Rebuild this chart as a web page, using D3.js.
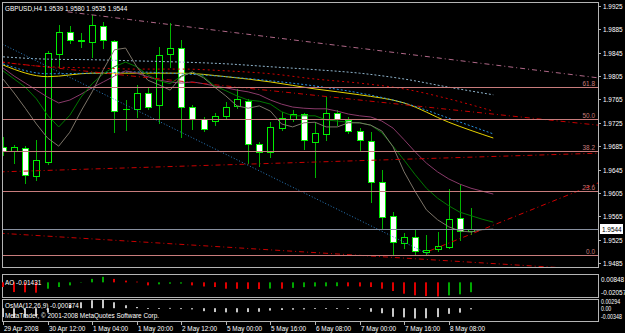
<!DOCTYPE html>
<html><head><meta charset="utf-8">
<script src="https://cdn.jsdelivr.net/npm/d3@7"></script>
<style>
html,body{margin:0;padding:0;background:#000;overflow:hidden}
svg{display:block}
text{font-family:'Liberation Sans',Arial,sans-serif;font-size:8px;fill:#fff}
</style></head><body>
<svg id="c" width="625" height="333"></svg>
<script>
// ---------- data ----------
const symbol = "GBPUSD,H4";
const open  = [1.9684,1.9677,1.9682,1.9634,1.9658,1.9843,1.9881,1.9865,1.9863,1.9891,1.9865,1.9749,1.9749,1.9776,1.9756,1.9843,1.9853,1.9752,1.9732,1.9728,1.9737,1.9754,1.9762,1.9689,1.9675,1.9716,1.9732,1.9740,1.9692,1.9706,1.9742,1.9730,1.9711,1.9694,1.9624,1.9566,1.9519,1.9530,1.9504,1.9509,1.9512,1.9562,1.9539];
const high  = [1.9701,1.9687,1.9685,1.9696,1.9848,1.9892,1.9891,1.9879,1.9910,1.9898,1.9867,1.9764,1.9790,1.9786,1.9855,1.9896,1.9867,1.9756,1.9735,1.9742,1.9761,1.9783,1.9766,1.9692,1.9726,1.9744,1.9747,1.9742,1.9726,1.9769,1.9747,1.9735,1.9716,1.9709,1.9644,1.9572,1.9536,1.9542,1.9533,1.9538,1.9612,1.9618,1.9580];
const low   = [1.9670,1.9656,1.9622,1.9627,1.9655,1.9821,1.9862,1.9855,1.9838,1.9853,1.9709,1.9713,1.9735,1.9749,1.9724,1.9821,1.9701,1.9715,1.9711,1.9721,1.9733,1.9750,1.9656,1.9651,1.9667,1.9713,1.9728,1.9680,1.9632,1.9696,1.9721,1.9708,1.9679,1.9590,1.9545,1.9499,1.9511,1.9499,1.9499,1.9506,1.9510,1.9524,1.9535];
const close = [1.9677,1.9684,1.9636,1.9661,1.9845,1.9881,1.9867,1.9866,1.9892,1.9867,1.9745,1.9748,1.9776,1.9752,1.9841,1.9853,1.9752,1.9732,1.9714,1.9737,1.9752,1.9766,1.9689,1.9675,1.9718,1.9733,1.9740,1.9696,1.9708,1.9742,1.9732,1.9711,1.9696,1.9624,1.9564,1.9521,1.9530,1.9506,1.9507,1.9514,1.9560,1.9539,1.9544];

// moving averages, one value per bar (index 0..44, last two shifted past the last bar)
const maFast = [1.9800,1.9776,1.9750,1.9723,1.9699,1.9685,1.9709,1.9745,1.9778,1.9816,1.9850,1.9853,1.9821,1.9798,1.9790,1.9781,1.9804,1.9812,1.9802,1.9786,1.9771,1.9754,1.9750,1.9754,1.9745,1.9723,1.9718,1.9725,1.9726,1.9718,1.9718,1.9725,1.9725,1.9721,1.9711,1.9684,1.9641,1.9607,1.9576,1.9559,1.9547,1.9540,1.9538,1.9542,1.9543];
const maMid  = [1.9814,1.9800,1.9786,1.9766,1.9738,1.9718,1.9738,1.9769,1.9792,1.9809,1.9821,1.9829,1.9821,1.9807,1.9797,1.9792,1.9805,1.9812,1.9804,1.9788,1.9780,1.9771,1.9764,1.9762,1.9757,1.9744,1.9737,1.9737,1.9737,1.9730,1.9728,1.9726,1.9725,1.9721,1.9708,1.9685,1.9661,1.9636,1.9613,1.9596,1.9583,1.9572,1.9566,1.9560,1.9555];
const maSlow = [1.9819,1.9805,1.9793,1.9781,1.9769,1.9759,1.9764,1.9774,1.9785,1.9795,1.9805,1.9814,1.9810,1.9804,1.9798,1.9795,1.9793,1.9795,1.9792,1.9788,1.9785,1.9781,1.9778,1.9773,1.9764,1.9757,1.9752,1.9750,1.9749,1.9749,1.9745,1.9740,1.9737,1.9735,1.9728,1.9716,1.9696,1.9675,1.9656,1.9641,1.9629,1.9620,1.9613,1.9608,1.9603];

// long moving averages, read every 4 bars (index 0,4,...,44)
const longIdx   = [0,4,8,12,16,20,24,28,32,36,40,44];
const maLightBl = [1.9838,1.9834,1.9833,1.9831,1.9829,1.9826,1.9821,1.9816,1.9810,1.9800,1.9786,1.9773];
const maRed     = [1.9829,1.9821,1.9819,1.9817,1.9817,1.9814,1.9809,1.9800,1.9793,1.9783,1.9766,1.9745];
const maYellow  = [1.9824,1.9804,1.9810,1.9810,1.9810,1.9804,1.9795,1.9783,1.9773,1.9759,1.9726,1.9699];
const maBlue    = [1.9826,1.9809,1.9810,1.9812,1.9809,1.9804,1.9797,1.9788,1.9776,1.9759,1.9733,1.9706];

// trend lines: [startIndex, startPrice, endIndex, endPrice]
const trendPink   = [5.8, 1.9915, 53.4, 1.9802];
const trendRedTop = [-0.3, 1.9829, 53.4, 1.9721];
const trendRedMid = [-0.3, 1.9641, 53.4, 1.9673];
const trendRedLow = [-0.3, 1.9536, 53.4, 1.9473];
const trendRedUp  = [38.3, 1.9506, 53.4, 1.9622];
const trendBlue   = [-0.3, 1.9862, 38.3, 1.9499];

// fibonacci retracement
const fibLow = 1.9499, fibHigh = 1.9965;
const fibLevels = [0, 23.6, 38.2, 50.0, 61.8];

// price axis ticks
const priceTicks = [1.9925,1.9885,1.9845,1.9805,1.9765,1.9725,1.9685,1.9645,1.9605,1.9565,1.9525,1.9485];

// time axis
const timeIdx    = [0,4,8,12,16,20,24,28,32,36,40];
const timeLabels = ["29 Apr 2008","30 Apr 12:00","1 May 04:00","1 May 20:00","2 May 12:00","5 May 00:00","5 May 16:00","6 May 08:00","7 May 00:00","7 May 16:00","8 May 08:00"];

// Awesome oscillator
const ao = [-0.0068,-0.0141,-0.0145,-0.0150,-0.0092,-0.0068,-0.0044,0.0005,0.0050,0.0080,0.0050,0.0025,0.0010,-0.0044,-0.0029,-0.0020,-0.0018,-0.0044,-0.0060,-0.0068,-0.0092,-0.0093,-0.0095,-0.0097,-0.0090,-0.0092,-0.0080,-0.0070,-0.0060,-0.0058,-0.0056,-0.0058,-0.0060,-0.0068,-0.0092,-0.0126,-0.0165,-0.0189,-0.0200,-0.02057,-0.0189,-0.0174,-0.01431];
const aoTicks = [0.00848, -0.02057];

// OsMA(12,26,9)
const osma = [-0.0030,-0.0033,-0.0032,-0.0028,-0.0015,0.0000,0.0012,0.0020,0.0027,0.00294,0.0020,0.0010,0.0004,-0.0002,-0.0001,0.0001,-0.0003,-0.0004,-0.0010,-0.0013,-0.0014,-0.0014,-0.0013,-0.0012,-0.0008,-0.0006,-0.0005,-0.0004,-0.0002,-0.0001,-0.0001,-0.0002,-0.0003,-0.0012,-0.0017,-0.0029,-0.0031,-0.00348,-0.0034,-0.0030,-0.0019,-0.0015,-0.000374];
const osmaTicks = [0.00294, 0.00, -0.00348];

// ---------- drawing ----------
const W = 625, H = 333;
const L = 2, R = 598;
const main = {top: 2, bottom: 267};
const aoP = {top: 274, bottom: 297};
const osP = {top: 299, bottom: 321};
const SX = 0.8; // narrow the font horizontally like the terminal's bitmap font

const svg = d3.select("#c");
svg.append("rect").attr("width", W).attr("height", H).attr("fill", "#000");

const x = d3.scaleLinear().domain([0, 42]).range([3, 471]);
const y = d3.scaleLinear().domain([1.9485, 1.9925]).range([263, 6]);
const yAo = d3.scaleLinear().domain([-0.02057, 0.00848]).range([296.5, 276.5]);
const yOs = d3.scaleLinear().domain([-0.00348, 0.00294]).range([318.5, 299.5]);
const px = v => Math.round(v) + 0.5;
const tr = (a, b) => `translate(${a},${b}) scale(${SX},1)`;

const defs = svg.append("defs");
defs.append("clipPath").attr("id", "clipMain").append("rect")
  .attr("x", L + 1).attr("y", main.top + 1).attr("width", R - L - 1).attr("height", main.bottom - main.top - 1);

const g = svg.append("g").attr("clip-path", "url(#clipMain)");

// candles
const n = open.length;
const idx = d3.range(n);
g.selectAll(".wick").data(idx).join("line")
  .attr("x1", i => px(x(i))).attr("x2", i => px(x(i)))
  .attr("y1", i => Math.round(y(high[i]))).attr("y2", i => Math.round(y(low[i])) + 1)
  .attr("stroke", "#00b400").attr("stroke-width", 1);
g.selectAll(".body").data(idx).join("rect")
  .attr("x", i => Math.round(x(i)) - 3 + 0.5)
  .attr("y", i => Math.round(y(Math.max(open[i], close[i]))) + 0.5)
  .attr("width", 6)
  .attr("height", i => Math.max(0.01, Math.round(y(Math.min(open[i], close[i]))) - Math.round(y(Math.max(open[i], close[i])))))
  .attr("fill", i => close[i] < open[i] ? "#ffffff" : "#000000")
  .attr("stroke", "#00f000").attr("stroke-width", 1);

// moving averages
const lineIdx = (arr) => d3.line().x((d, i) => x(i)).y(d => y(d))(arr);
const lineLong = (arr) => d3.line().x((d, i) => x(longIdx[i])).y(d => y(d)).curve(d3.curveMonotoneX)(arr);

g.append("path").attr("d", lineLong(maLightBl)).attr("fill", "none").attr("stroke", "#8fb4cc").attr("stroke-width", 1).attr("stroke-dasharray", "2,2");
g.append("path").attr("d", lineLong(maRed)).attr("fill", "none").attr("stroke", "#d00000").attr("stroke-width", 1).attr("stroke-dasharray", "2,3");
g.append("path").attr("d", lineLong(maYellow)).attr("fill", "none").attr("stroke", "#e6d200").attr("stroke-width", 1);
g.append("path").attr("d", lineLong(maBlue)).attr("fill", "none").attr("stroke", "#2890e0").attr("stroke-width", 1).attr("stroke-dasharray", "2,2");

g.append("path").attr("d", lineIdx(maSlow)).attr("fill", "none").attr("stroke", "#8a3a6a").attr("stroke-width", 1);
g.append("path").attr("d", lineIdx(maMid)).attr("fill", "none").attr("stroke", "#007800").attr("stroke-width", 1);
g.append("path").attr("d", lineIdx(maFast)).attr("fill", "none").attr("stroke", "#7c7468").attr("stroke-width", 1);

// trend lines
function trend(t, color, dash) {
  g.append("line")
    .attr("x1", x(t[0])).attr("y1", y(t[1])).attr("x2", x(t[2])).attr("y2", y(t[3]))
    .attr("stroke", color).attr("stroke-width", 1).attr("stroke-dasharray", dash);
}
trend(trendPink, "#b06888", "5,3,1,3");
trend(trendRedTop, "#c80000", "5,3,1,3");
trend(trendRedMid, "#c80000", "5,3,1,3");
trend(trendRedLow, "#c80000", "5,3,1,3");
trend(trendRedUp, "#d00000", "5,3,1,3");
trend(trendBlue, "#2a7cc0", "1,2");

// fibonacci levels
const fibPrice = lv => fibLow + lv / 100 * (fibHigh - fibLow);
g.selectAll(".fib").data(fibLevels).join("line")
  .attr("x1", L).attr("x2", R)
  .attr("y1", d => px(y(fibPrice(d)))).attr("y2", d => px(y(fibPrice(d))))
  .attr("stroke", "#c87c7c").attr("stroke-width", 1);
svg.selectAll(".fibt").data(fibLevels).join("text")
  .attr("transform", d => tr(595, Math.round(y(fibPrice(d))) - 1))
  .attr("text-anchor", "end").style("fill", "#c87c7c")
  .text(d => d.toFixed(1));

// bid line
const last = close[n - 1];
g.append("line").attr("x1", L).attr("x2", R)
  .attr("y1", px(y(last))).attr("y2", px(y(last)))
  .attr("stroke", "#8890a0").attr("stroke-width", 1);

// frames
function frame(p) {
  svg.append("rect").attr("x", L + 0.5).attr("y", p.top + 0.5)
    .attr("width", R - L).attr("height", p.bottom - p.top)
    .attr("fill", "none").attr("stroke", "#b4b4b4").attr("stroke-width", 1);
}
frame(main); frame(aoP); frame(osP);

// price axis
svg.selectAll(".pt").data(priceTicks).join("line")
  .attr("x1", R).attr("x2", R + 3).attr("y1", d => px(y(d))).attr("y2", d => px(y(d)))
  .attr("stroke", "#b4b4b4");
svg.selectAll(".pl").data(priceTicks).join("text")
  .attr("transform", d => tr(603, y(d) + 3))
  .text(d => d.toFixed(4));

// current price box
svg.append("rect").attr("x", 600).attr("y", Math.round(y(last)) - 5).attr("width", 23).attr("height", 10).attr("fill", "#fff");
svg.append("text").attr("transform", tr(602, y(last) + 3)).style("fill", "#000").text(last.toFixed(4));

// title
svg.append("text").attr("transform", tr(5, 10.5))
  .text(symbol + "  " + [open[n-1], high[n-1], low[n-1], close[n-1]].map(v => v.toFixed(4)).join(" "));

// AO
svg.selectAll(".ao").data(ao).join("rect")
  .attr("x", (d, i) => Math.round(x(i)) - 1)
  .attr("y", d => Math.min(yAo(d), yAo(0)))
  .attr("width", 2)
  .attr("height", d => Math.abs(yAo(d) - yAo(0)))
  .attr("fill", (d, i) => (i > 0 && d > ao[i - 1]) ? "#00a800" : "#e00000");
svg.append("text").attr("transform", tr(5, 285)).text("AO " + ao[n - 1].toFixed(5));
svg.selectAll(".aol").data(aoTicks).join("text")
  .attr("transform", (d, i) => tr(601, i === 0 ? 282 : 295))
  .text(d => d.toFixed(5));

// OsMA
svg.selectAll(".os").data(osma).join("rect")
  .attr("x", (d, i) => Math.round(x(i)) - 1)
  .attr("y", d => Math.min(yOs(d), yOs(0)))
  .attr("width", 2)
  .attr("height", d => Math.max(0.8, Math.abs(yOs(d) - yOs(0))))
  .attr("fill", "#c8c8c8");
svg.append("text").attr("transform", tr(5, 307.5)).text("OsMA(12,26,9) " + osma[n - 1].toFixed(6));
svg.append("text").attr("transform", tr(5, 317.5)).text("MetaTrader, \u00a9 2001-2008 MetaQuotes Software Corp.");
svg.selectAll(".osl").data(osmaTicks).join("text")
  .attr("transform", (d, i) => tr(601, [303.5, 310.5, 318.5][i]))
  .style("font-size", "6.6px")
  .text(d => d === 0 ? "0.00" : d.toFixed(5));

// time axis
svg.selectAll(".tt").data(timeIdx).join("line")
  .attr("x1", i => px(x(i))).attr("x2", i => px(x(i)))
  .attr("y1", osP.bottom).attr("y2", osP.bottom + 4)
  .attr("stroke", "#b4b4b4");
svg.selectAll(".tl").data(timeIdx).join("text")
  .attr("transform", i => tr(Math.round(x(i)) + 1, 331))
  .text((d, k) => timeLabels[k]);
</script>
</body></html>
